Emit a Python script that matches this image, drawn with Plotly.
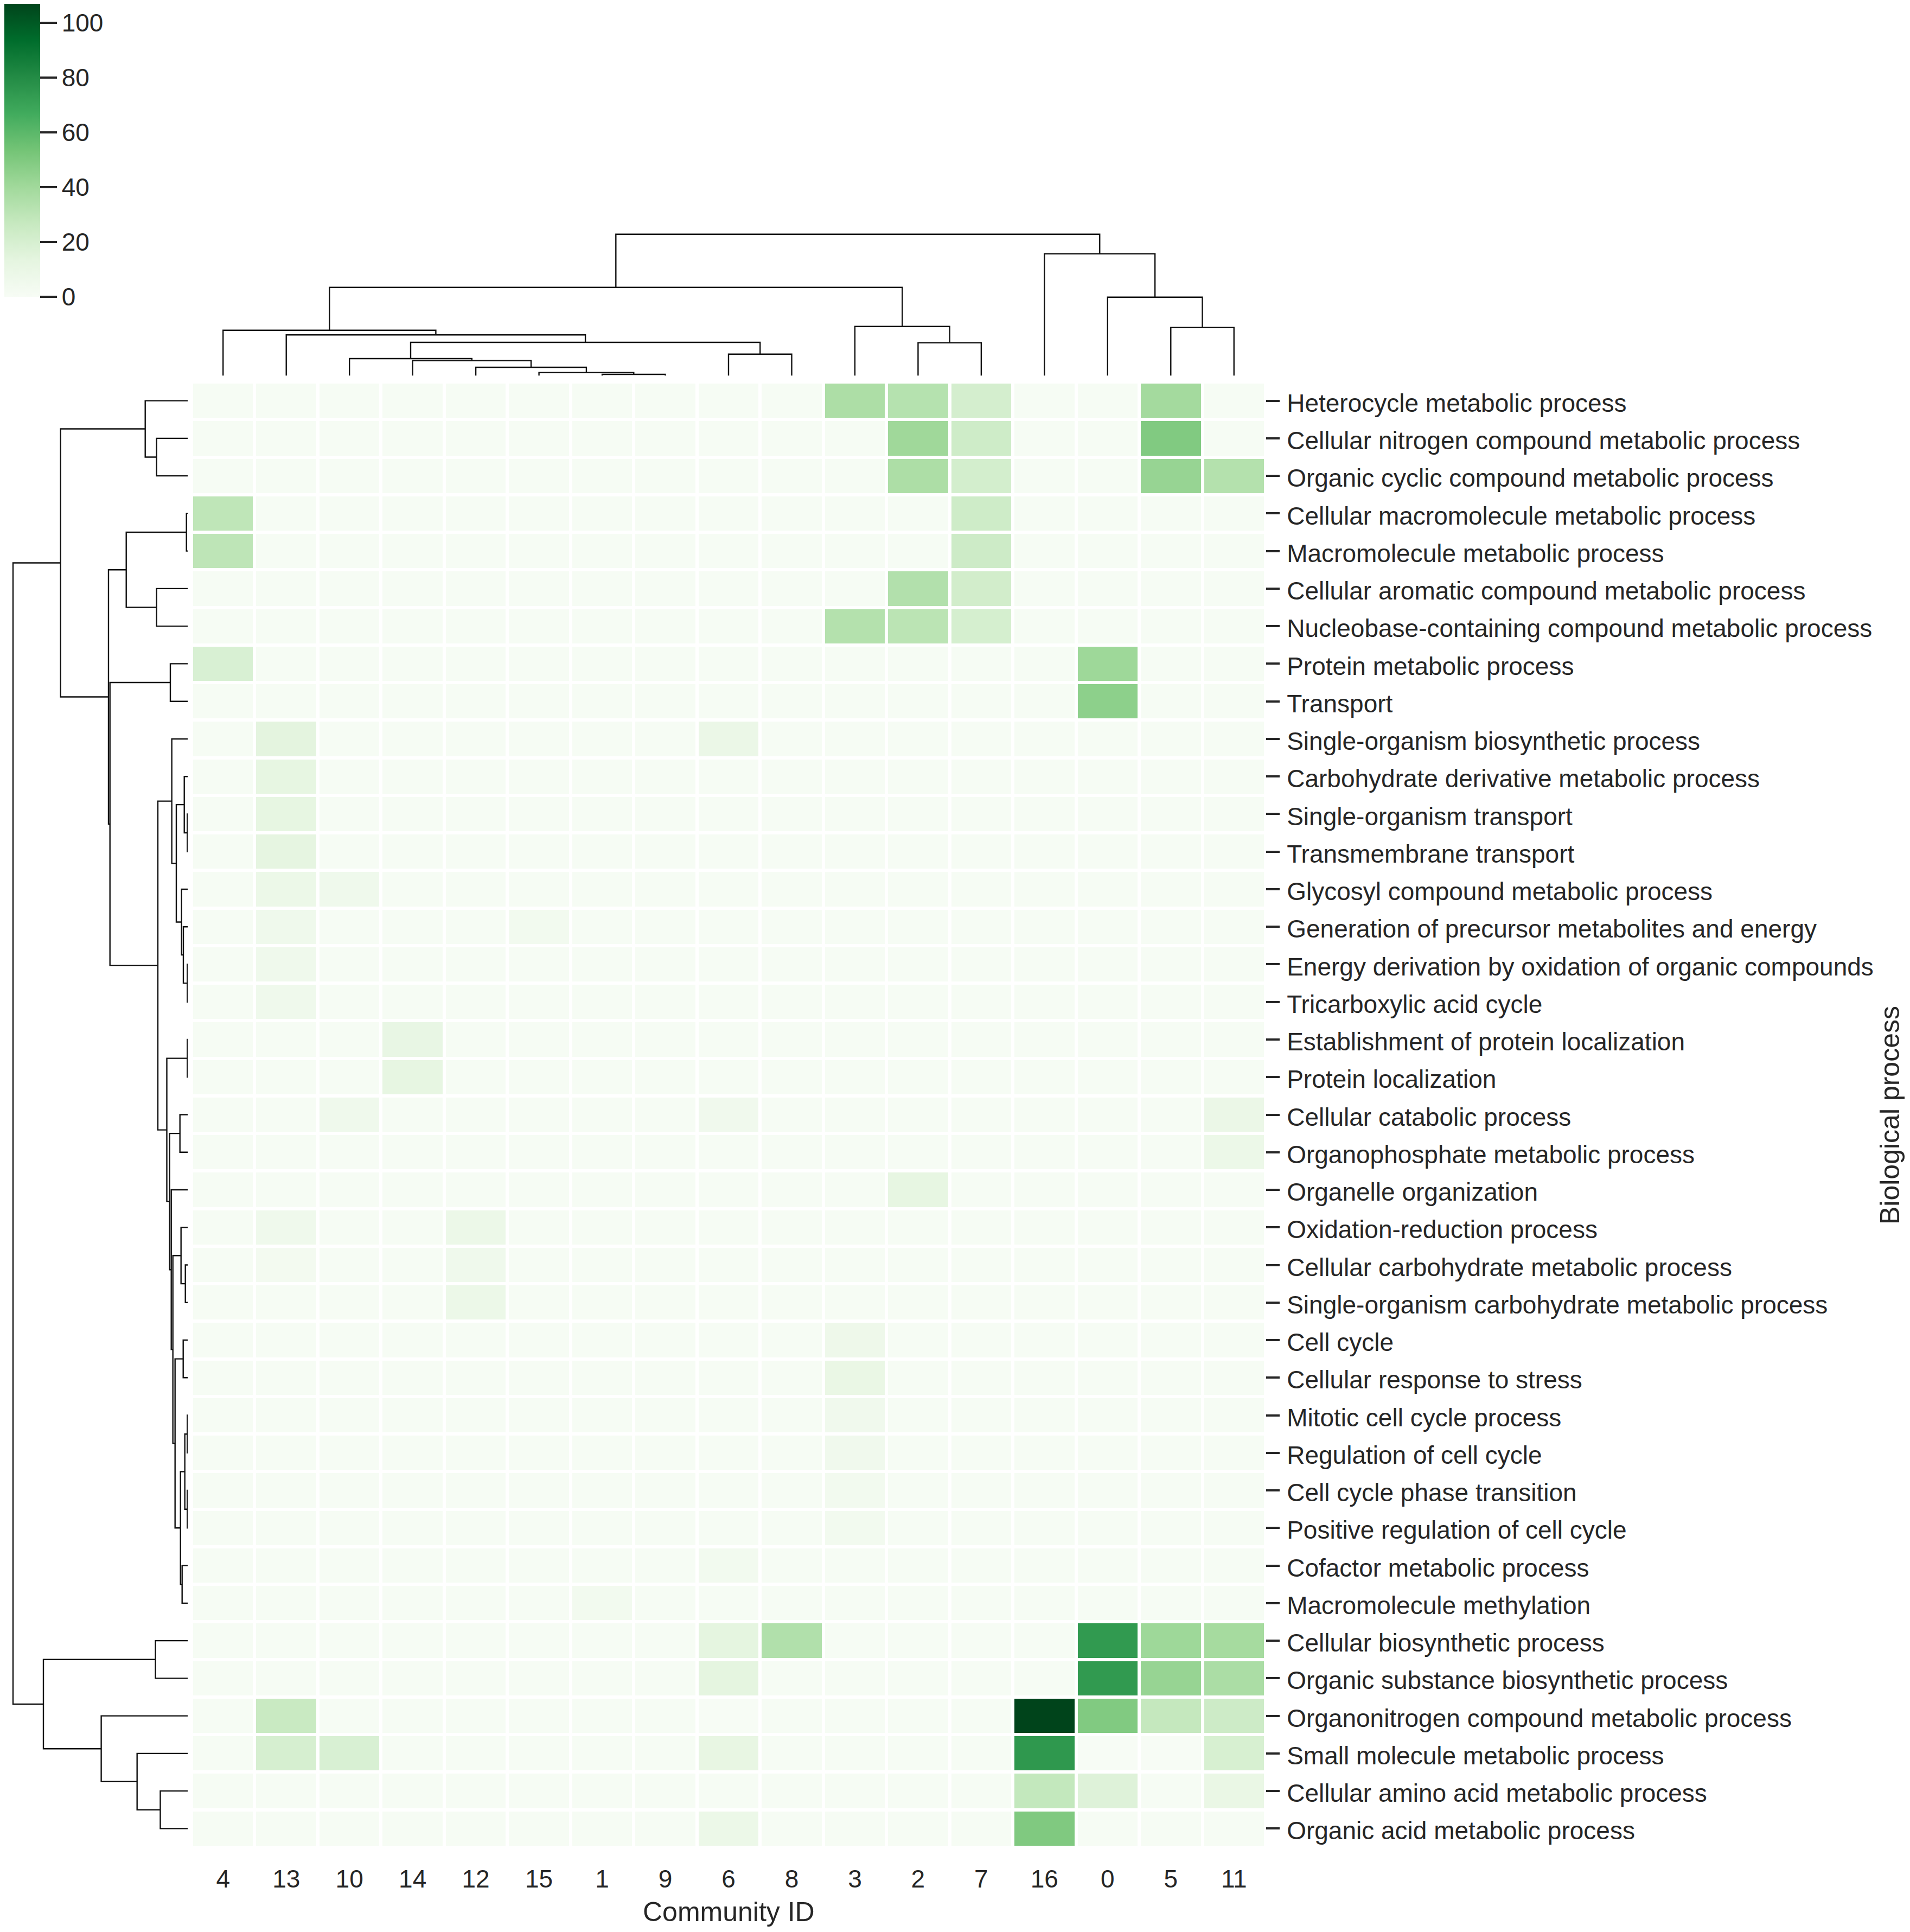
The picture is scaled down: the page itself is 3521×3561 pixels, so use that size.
import plotly.graph_objects as go

W, H = 3521, 3561

community_ids = ["4", "13", "10", "14", "12", "15", "1", "9", "6", "8", "3", "2", "7", "16", "0", "5", "11"]
processes = [
    "Heterocycle metabolic process", "Cellular nitrogen compound metabolic process",
    "Organic cyclic compound metabolic process", "Cellular macromolecule metabolic process",
    "Macromolecule metabolic process", "Cellular aromatic compound metabolic process",
    "Nucleobase-containing compound metabolic process", "Protein metabolic process", "Transport",
    "Single-organism biosynthetic process", "Carbohydrate derivative metabolic process",
    "Single-organism transport", "Transmembrane transport", "Glycosyl compound metabolic process",
    "Generation of precursor metabolites and energy", "Energy derivation by oxidation of organic compounds",
    "Tricarboxylic acid cycle", "Establishment of protein localization", "Protein localization",
    "Cellular catabolic process", "Organophosphate metabolic process", "Organelle organization",
    "Oxidation-reduction process", "Cellular carbohydrate metabolic process",
    "Single-organism carbohydrate metabolic process", "Cell cycle", "Cellular response to stress",
    "Mitotic cell cycle process", "Regulation of cell cycle", "Cell cycle phase transition",
    "Positive regulation of cell cycle", "Cofactor metabolic process", "Macromolecule methylation",
    "Cellular biosynthetic process", "Organic substance biosynthetic process",
    "Organonitrogen compound metabolic process", "Small molecule metabolic process",
    "Cellular amino acid metabolic process", "Organic acid metabolic process",
]
enrichment = [
    [.5, .5, .5, .5, .5, .5, .5, .5, .5, .5, 36, 33, 21, .5, .5, 39, .5],
    [.5, .5, .5, .5, .5, .5, .5, .5, .5, .5, .5, 40.5, 23.5, .5, .5, 49.5, .5],
    [.5, .5, .5, .5, .5, .5, .5, .5, .5, .5, .5, 36, 21.5, .5, .5, 43, 33.5],
    [29.5, .5, .5, .5, .5, .5, .5, .5, .5, .5, .5, .5, 23.5, .5, .5, .5, .5],
    [30, .5, .5, .5, .5, .5, .5, .5, .5, .5, .5, .5, 24, .5, .5, .5, .5],
    [.5, .5, .5, .5, .5, .5, .5, .5, .5, .5, .5, 34, 22, .5, .5, .5, .5],
    [.5, .5, .5, .5, .5, .5, .5, .5, .5, .5, 33.5, 31, 20.5, .5, .5, .5, .5],
    [19, .5, .5, .5, .5, .5, .5, .5, .5, .5, .5, .5, .5, .5, 41, .5, .5],
    [.5, .5, .5, .5, .5, .5, .5, .5, .5, .5, .5, .5, .5, .5, 46, .5, .5],
    [.5, 14, .5, .5, .5, .5, .5, .5, 9, .5, .5, .5, .5, .5, .5, .5, .5],
    [.5, 12, .5, .5, .5, .5, .5, .5, .5, .5, .5, .5, .5, .5, .5, .5, .5],
    [.5, 12, .5, .5, .5, .5, .5, .5, .5, .5, .5, .5, .5, .5, .5, .5, .5],
    [.5, 13, .5, .5, .5, .5, .5, .5, .5, .5, .5, .5, .5, .5, .5, .5, .5],
    [.5, 8, 6, .5, .5, .5, .5, .5, .5, .5, .5, .5, .5, .5, .5, .5, .5],
    [.5, 6, .5, .5, .5, 4, .5, .5, .5, .5, .5, .5, .5, .5, .5, .5, .5],
    [.5, 6, .5, .5, .5, .5, .5, .5, .5, .5, .5, .5, .5, .5, .5, .5, .5],
    [.5, 6, .5, .5, .5, .5, .5, .5, .5, .5, .5, .5, .5, .5, .5, .5, .5],
    [.5, .5, .5, 11, .5, .5, .5, .5, .5, .5, .5, .5, .5, .5, .5, .5, .5],
    [.5, .5, .5, 12, .5, .5, .5, .5, .5, .5, .5, .5, .5, .5, .5, .5, .5],
    [.5, .5, 6, .5, .5, .5, .5, .5, 5, .5, .5, .5, .5, .5, .5, .5, 9],
    [.5, .5, .5, .5, .5, .5, .5, .5, .5, .5, .5, .5, .5, .5, .5, .5, 8],
    [.5, .5, .5, .5, .5, .5, .5, .5, .5, .5, .5, 12, .5, .5, .5, .5, .5],
    [.5, 6, .5, .5, 8, .5, .5, .5, .5, .5, .5, .5, .5, .5, .5, .5, .5],
    [.5, 3, .5, .5, 6, .5, .5, .5, .5, .5, .5, .5, .5, .5, .5, .5, .5],
    [.5, .5, .5, .5, 8, .5, .5, .5, .5, .5, .5, .5, .5, .5, .5, .5, .5],
    [.5, .5, .5, .5, .5, .5, .5, .5, .5, .5, 7, .5, .5, .5, .5, .5, .5],
    [.5, .5, .5, .5, .5, .5, .5, .5, .5, .5, 10, .5, .5, .5, .5, .5, .5],
    [.5, .5, .5, .5, .5, .5, .5, .5, .5, .5, 5, .5, .5, .5, .5, .5, .5],
    [.5, .5, .5, .5, .5, .5, .5, .5, .5, .5, 5, .5, .5, .5, .5, .5, .5],
    [.5, .5, .5, .5, .5, .5, .5, .5, .5, .5, 4, .5, .5, .5, .5, .5, .5],
    [.5, .5, .5, .5, .5, .5, .5, .5, .5, .5, 4, .5, .5, .5, .5, .5, .5],
    [.5, .5, .5, .5, .5, .5, .5, .5, 4, .5, .5, .5, .5, .5, .5, .5, .5],
    [.5, .5, .5, .5, .5, .5, 4, .5, .5, .5, .5, .5, .5, .5, .5, .5, .5],
    [.5, .5, .5, .5, .5, .5, .5, .5, 13.5, 34.5, .5, .5, .5, .5, 74, 41, 38.5],
    [.5, .5, .5, .5, .5, .5, .5, .5, 13.4, .5, .5, .5, .5, .5, 74, 43, 36.5],
    [.5, 26, .5, .5, .5, .5, .5, .5, 0, .5, .5, .5, .5, 107, 49.5, 27.5, 24],
    [.5, 20, 19, .5, .5, .5, .5, .5, 11.5, .5, .5, .5, .5, 75, 0, 0, 19.5],
    [.5, .5, .5, .5, .5, .5, .5, .5, .5, .5, .5, .5, .5, 28, 16.5, .5, 10],
    [.5, .5, .5, .5, .5, .5, .5, .5, 8, .5, .5, .5, .5, 50, .5, .5, .5],
]
colorbar_ticks = [0, 20, 40, 60, 80, 100]
greens = ["#f7fcf5", "#e5f5e0", "#c7e9c0", "#a1d99b", "#74c476", "#41ab5d", "#238b45", "#006d2c", "#00441b"]

# linkage tables: node ids continue after the leaves, in merge order
column_merge_a = [6, 5, 4, 3, 2, 8, 21, 1, 0, 11, 10, 25, 15, 14, 13, 28]
column_merge_b = [7, 17, 18, 19, 20, 9, 22, 23, 24, 12, 26, 27, 16, 29, 30, 31]
column_merge_height = [2.5, 5.8, 15.5, 27.7, 31.5, 39.8, 61.5, 75.2, 83.8, 60.8, 90.8, 162.8, 88.8, 144.8, 224.8, 260.8]

row_merge_a = [11, 15, 17, 27, 29, 3, 23, 42, 10, 14, 25, 31, 13, 22, 46, 19, 47, 49, 52, 9, 21, 7, 54, 41, 58,
               1, 5, 33, 37, 36, 35, 66, 0, 44, 60, 72, 71, 75]
row_merge_b = [12, 16, 18, 28, 30, 4, 24, 43, 39, 40, 26, 32, 48, 45, 50, 20, 51, 53, 56, 55, 57, 8, 59, 61, 62,
               2, 6, 34, 38, 67, 68, 69, 64, 65, 63, 73, 74, 70]
row_merge_height = [0.7, 0.7, 0.7, 0.7, 0.7, 2.3, 4.3, 5.3, 6.3, 8, 8.3, 10.3, 11.3, 12.3, 13.3, 14.3, 21, 23.3,
                    27.3, 29.3, 30.3, 32, 33.3, 38.5, 55, 57.3, 57.3, 59.4, 50.5, 93.3, 159.4, 266, 78.3, 113.3,
                    143.3, 146, 234.3, 322]


def dendrogram_paths(n_leaves, merge_a, merge_b, merge_height):
    position = {i: float(i) for i in range(n_leaves)}
    height = {i: 0.0 for i in range(n_leaves)}
    pos_path, height_path = [], []
    for k, (a, b, h) in enumerate(zip(merge_a, merge_b, merge_height)):
        pos_path += [position[a], position[a], position[b], position[b], None]
        height_path += [height[a], h, h, height[b], None]
        node = n_leaves + k
        position[node] = (position[a] + position[b]) / 2
        height[node] = h
    return pos_path, height_path


FONT = "Liberation Sans"
TEXT = "#262626"
FS = 46
TITLE_FS = 50
LINE = "#111111"
LW = 2.4

fig = go.Figure()
fig.add_trace(go.Heatmap(
    z=enrichment,
    x=list(range(len(community_ids))),
    y=list(range(len(processes))),
    colorscale=[[i / (len(greens) - 1), c] for i, c in enumerate(greens)],
    zmin=0, zmax=107, xgap=6, ygap=6,
    colorbar=dict(
        x=8 / W, xanchor="left", y=1 - 7 / H, yanchor="top",
        len=540, lenmode="pixels", thickness=66, thicknessmode="pixels",
        xpad=0, ypad=0, outlinewidth=0,
        tickmode="array", tickvals=colorbar_ticks, ticks="outside", ticklen=31, tickwidth=4, tickcolor=TEXT,
        tickfont=dict(family=FONT, size=FS, color=TEXT),
    ),
))

cx, ch = dendrogram_paths(len(community_ids), column_merge_a, column_merge_b, column_merge_height)
fig.add_trace(go.Scatter(x=cx, y=ch, xaxis="x", yaxis="y2", mode="lines", cliponaxis=False,
                         line=dict(color=LINE, width=LW), showlegend=False, hoverinfo="skip"))
ry, rh = dendrogram_paths(len(processes), row_merge_a, row_merge_b, row_merge_height)
fig.add_trace(go.Scatter(x=rh, y=ry, xaxis="x2", yaxis="y", mode="lines", cliponaxis=False,
                         line=dict(color=LINE, width=LW), showlegend=False, hoverinfo="skip"))

fig.update_layout(
    width=W, height=H,
    margin=dict(l=0, r=0, t=0, b=0, autoexpand=False),
    paper_bgcolor="white", plot_bgcolor="white",
    showlegend=False,
    font=dict(family=FONT, size=FS, color=TEXT),
    xaxis=dict(domain=[353 / W, 2333 / W], range=[-0.5, 16.5], anchor="y", side="bottom",
               tickmode="array", tickvals=list(range(len(community_ids))), ticktext=community_ids,
               ticks="", ticklabelstandoff=27, showgrid=False, zeroline=False, showline=False,
               tickfont=dict(family=FONT, size=FS, color=TEXT), automargin=False),
    yaxis=dict(domain=[1 - 3405 / H, 1 - 704 / H], range=[38.5, -0.5], anchor="x", side="right",
               tickmode="array", tickvals=list(range(len(processes))), ticktext=processes,
               ticks="outside", ticklen=25, tickwidth=3.5, tickcolor=TEXT, ticklabelstandoff=4,
               ticklabelshift=-4,
               showgrid=False, zeroline=False, showline=False,
               tickfont=dict(family=FONT, size=FS, color=TEXT), automargin=False),
    xaxis2=dict(domain=[0, 346 / W], range=[346, 0], anchor="y", visible=False),
    yaxis2=dict(domain=[1 - 692.5 / H, 1 - 418 / H], range=[0, 274.5], anchor="x", visible=False),
    annotations=[
        dict(text="Community ID", xref="paper", yref="paper", x=1343 / W, y=1 - 3524 / H,
             xanchor="center", yanchor="middle", showarrow=False,
             font=dict(family=FONT, size=TITLE_FS, color=TEXT)),
        dict(text="Biological process", xref="paper", yref="paper", x=3484 / W, y=1 - 2056 / H,
             xanchor="center", yanchor="middle", textangle=-90, showarrow=False,
             font=dict(family=FONT, size=TITLE_FS, color=TEXT)),
    ],
)

fig.write_html("out.html", config={"displayModeBar": False}, post_script="document.body.style.margin='0';")
